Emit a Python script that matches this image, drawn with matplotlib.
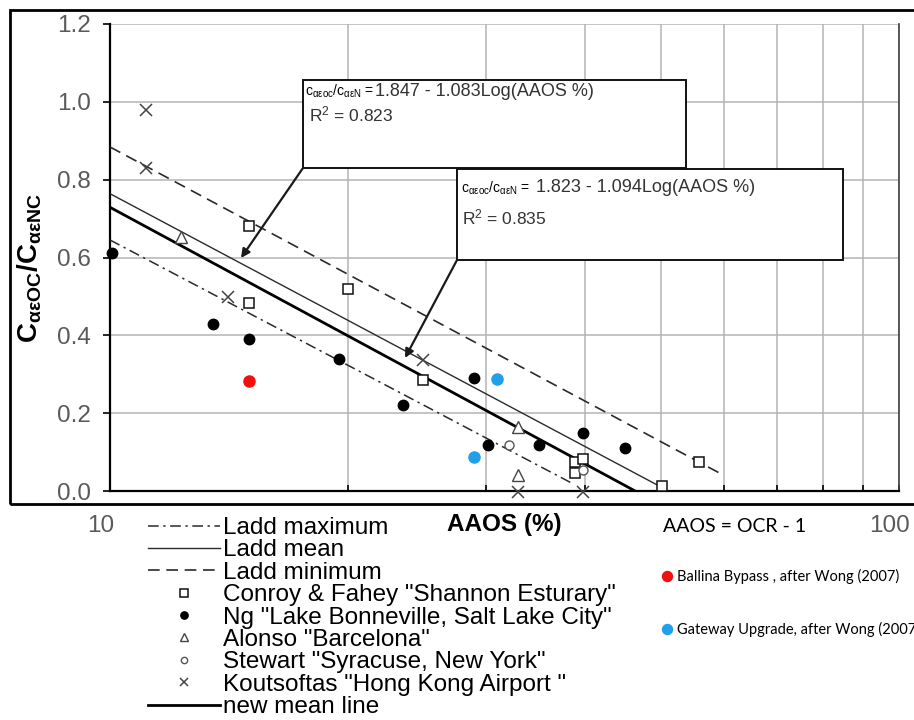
import numpy as np
import matplotlib
matplotlib.use("Agg")
import matplotlib.pyplot as plt
from matplotlib.patches import Rectangle
from matplotlib.ticker import FixedLocator, NullFormatter, FormatStrFormatter
from matplotlib.transforms import ScaledTranslation

plt.rcParams['font.family'] = ['Liberation Sans', 'DejaVu Sans']
plt.rcParams['mathtext.fontset'] = 'custom'
plt.rcParams['mathtext.rm'] = 'Liberation Sans'
plt.rcParams['mathtext.it'] = 'Liberation Sans:italic'
plt.rcParams['mathtext.bf'] = 'Liberation Sans:bold'

# ---------------- data ----------------
ladd_max_x = [10, 38.5]
ladd_max_y = [0.645, 0.02]
ladd_mean_x = [10, 50.5]
ladd_mean_y = [0.764, 0.005]
ladd_min_x = [10, 60]
ladd_min_y = [0.884, 0.04]
new_mean_x = [10, 46.3]
new_mean_y = [0.729, 0.0]

conroy_x = [15.0, 15.0, 20.0, 24.9, 38.8, 39.8, 38.8, 50.1, 55.8]
conroy_y = [0.681, 0.483, 0.519, 0.285, 0.075, 0.082, 0.046, 0.013, 0.075]

ng_x = [10.05, 13.5, 15.0, 19.5, 23.5, 28.9, 30.1, 35.0, 39.8, 45.0]
ng_y = [0.612, 0.429, 0.39, 0.34, 0.221, 0.29, 0.118, 0.118, 0.149, 0.11]

alonso_x = [12.3, 32.9, 32.9]
alonso_y = [0.653, 0.165, 0.041]

stewart_x = [32.0, 39.8]
stewart_y = [0.118, 0.054]

kout_x = [11.1, 11.1, 14.1, 24.9, 32.9, 39.8]
kout_y = [0.98, 0.83, 0.499, 0.337, -0.003, -0.003]

ballina_x = [15.0]
ballina_y = [0.283]
gateway_x = [30.9, 28.9]
gateway_y = [0.288, 0.087]

y_ticks = [0.0, 0.2, 0.4, 0.6, 0.8, 1.0, 1.2]
x_major = [10, 100]
x_major_labels = ["10", "100"]
x_minor = [20, 30, 40, 50, 60, 70, 80, 90]

legend_labels = ["Ladd maximum", "Ladd mean", "Ladd minimum",
                 'Conroy & Fahey "Shannon Esturary"',
                 'Ng "Lake Bonneville, Salt Lake City"',
                 'Alonso "Barcelona"',
                 'Stewart "Syracuse, New York"',
                 'Koutsoftas "Hong Kong Airport "',
                 "new mean line"]
wong_labels = ["Ballina Bypass , after Wong (2007)",
               "Gateway Upgrade, after Wong (2007)"]

eq1_prefix = r"c$_{\mathrm{αεoc}}$/c$_{\mathrm{αεN}}$ ="
eq1_main = "1.847 - 1.083Log(AAOS %)"
eq1_r2 = "R$^{2}$ = 0.823"
eq2_prefix = r"c$_{\mathrm{αεoc}}$/c$_{\mathrm{αεN}}$ ="
eq2_main = "1.823 - 1.094Log(AAOS %)"
eq2_r2 = "R$^{2}$ = 0.835"

# ---------------- figure ----------------
W, H = 914, 720
fig = plt.figure(figsize=(W / 100, H / 100), dpi=100)
fig.patch.set_facecolor("white")

def fx(px):
    return px / W

def fy(py):
    return 1 - py / H

ax_l, ax_r, ax_t, ax_b = 110, 899, 24, 491
ax = fig.add_axes([fx(ax_l), fy(ax_b), (ax_r - ax_l) / W, (ax_b - ax_t) / H])

# outer frame of the chart image
fig.patches.append(Rectangle((fx(10), fy(504)), 1.2, fy(10) - fy(504),
                             transform=fig.transFigure, fill=False,
                             ec="black", lw=2.0, zorder=0))

line_col = "#2a2a2a"
l_max, = ax.plot(ladd_max_x, ladd_max_y, color=line_col, lw=1.1,
                 dashes=(7, 3, 1.5, 3), zorder=3)
l_mean, = ax.plot(ladd_mean_x, ladd_mean_y, color=line_col, lw=1.0, zorder=3)
l_min, = ax.plot(ladd_min_x, ladd_min_y, color=line_col, lw=1.2,
                 dashes=(7, 4), zorder=3)
l_new, = ax.plot(new_mean_x, new_mean_y, color="black", lw=2.0, zorder=3)

s_conroy, = ax.plot(conroy_x, conroy_y, ls="none", marker="s", ms=7.5,
                    mfc="white", mec="#111111", mew=1.1, zorder=4, clip_on=False)
s_ng, = ax.plot(ng_x, ng_y, ls="none", marker="o", ms=7.5, mfc="black",
                mec="black", zorder=4, clip_on=False)
s_alonso, = ax.plot(alonso_x, alonso_y, ls="none", marker="^", ms=8.5,
                    mfc="white", mec="#444444", mew=1.0, zorder=4, clip_on=False)
s_stewart, = ax.plot(stewart_x, stewart_y, ls="none", marker="o", ms=6.5,
                     mfc="white", mec="#555555", mew=1.0, zorder=4, clip_on=False)
s_kout, = ax.plot(kout_x, kout_y, ls="none", marker="x", ms=8, mec="#444444",
                  mew=1.1, zorder=4, clip_on=False)
s_ballina, = ax.plot(ballina_x, ballina_y, ls="none", marker="o", ms=8,
                     mfc="#f01010", mec="#f01010", zorder=4)
s_gateway, = ax.plot(gateway_x, gateway_y, ls="none", marker="o", ms=8,
                     mfc="#1fa0e8", mec="#1fa0e8", zorder=4)

ax.set_xscale("log")
ax.set_xlim(10, 100)
ax.set_ylim(0, 1.2)
ax.set_yticks(y_ticks)
ax.yaxis.set_major_formatter(FormatStrFormatter("%.1f"))
ax.set_xticks(x_major)
ax.set_xticklabels(x_major_labels)
ax.xaxis.set_minor_locator(FixedLocator(x_minor))
ax.xaxis.set_minor_formatter(NullFormatter())

grid_col = "#b4b4b4"
ax.grid(True, axis="x", which="both", color=grid_col, lw=1.1, zorder=1)
ax.grid(True, axis="y", which="major", color=grid_col, lw=1.1, zorder=1)
ax.set_axisbelow(True)

tick_col = "#5a5a5a"
ax.tick_params(axis="y", direction="out", length=5, width=1.2, color="black",
               pad=9, labelsize=17.5, labelcolor=tick_col)
ax.tick_params(axis="x", which="both", direction="in", length=4, width=1.2,
               color="black", pad=17, labelsize=17.5, labelcolor=tick_col)

# x tick labels sit slightly left of their ticks in the reference
shift = ScaledTranslation(-9 / 100, 0, fig.dpi_scale_trans)
for lab in ax.get_xticklabels():
    lab.set_transform(lab.get_transform() + shift)

ax.spines["top"].set_visible(False)
ax.spines["left"].set_color("black")
ax.spines["left"].set_linewidth(1.6)
ax.spines["bottom"].set_color("black")
ax.spines["bottom"].set_linewidth(1.6)
ax.spines["right"].set_color("#404040")
ax.spines["right"].set_linewidth(1.2)

ax.set_xlabel("AAOS (%)", fontsize=17.5, fontweight="bold", va="center")
ax.xaxis.set_label_coords(0.5, (ax_b - 525) / (ax_b - ax_t))
ax.set_ylabel(r"$\mathbf{C_{αεOC}/C_{αεNC}}$", fontsize=20, va="center")
ax.yaxis.set_label_coords((30 - ax_l) / (ax_r - ax_l), (ax_b - 268) / (ax_b - ax_t))

# ---------------- equation boxes ----------------
def axf(px, py):
    return ((px - ax_l) / (ax_r - ax_l), (ax_b - py) / (ax_b - ax_t))

def add_box(l, t, r, b, head, prefix, main, r2, pre_xy, main_x, r2_xy):
    x0, y0 = axf(l, b)
    x1, y1 = axf(r, t)
    ax.add_patch(Rectangle((x0, y0), x1 - x0, y1 - y0, transform=ax.transAxes,
                           fc="white", ec="#111111", lw=1.4, zorder=6))
    ax.annotate("", xy=axf(*head), xytext=(x0, y0), xycoords="axes fraction",
                arrowprops=dict(arrowstyle="-|>", color="#1a1a1a", lw=1.6,
                                mutation_scale=13, shrinkA=0, shrinkB=0),
                zorder=7)
    px, py = axf(*pre_xy)
    ax.text(px, py, prefix, transform=ax.transAxes, fontsize=10,
            va="center", ha="left", color="black", zorder=8)
    mx, _ = axf(main_x, pre_xy[1])
    ax.text(mx, py, main, transform=ax.transAxes, fontsize=13,
            va="center", ha="left", color="#333333", zorder=8)
    rx, ry = axf(*r2_xy)
    ax.text(rx, ry, r2, transform=ax.transAxes, fontsize=12.5,
            va="center", ha="left", color="#333333", zorder=8)

add_box(303, 80, 686, 168, (241, 258), eq1_prefix, eq1_main, eq1_r2,
        (305, 91), 375, (309, 114))
add_box(457, 169, 843, 260, (405, 358), eq2_prefix, eq2_main, eq2_r2,
        (461, 188), 536, (462, 217))

# ---------------- legends ----------------
handles = [l_max, l_mean, l_min, s_conroy, s_ng, s_alonso, s_stewart, s_kout, l_new]
fig.legend(handles, legend_labels, loc="upper left",
           bbox_to_anchor=(fx(148), fy(517)), frameon=False, fontsize=17.5,
           handlelength=2.95, handletextpad=0.15, labelspacing=0.015,
           borderpad=0, borderaxespad=0, markerscale=0.7)

fig.legend([s_ballina, s_gateway], wong_labels, loc="upper left",
           bbox_to_anchor=(fx(663), fy(569)), frameon=False,
           prop={"family": ["Lato", "DejaVu Sans"], "size": 10.5},
           handlelength=0.5, handletextpad=0.45, labelspacing=2.57,
           borderpad=0, borderaxespad=0, markerscale=0.9)

fig.text(fx(663), fy(527), "AAOS = OCR - 1", fontsize=14,
         family=["Lato", "DejaVu Sans"], va="center", ha="left", color="black")

fig.savefig("out.png", dpi=100)
